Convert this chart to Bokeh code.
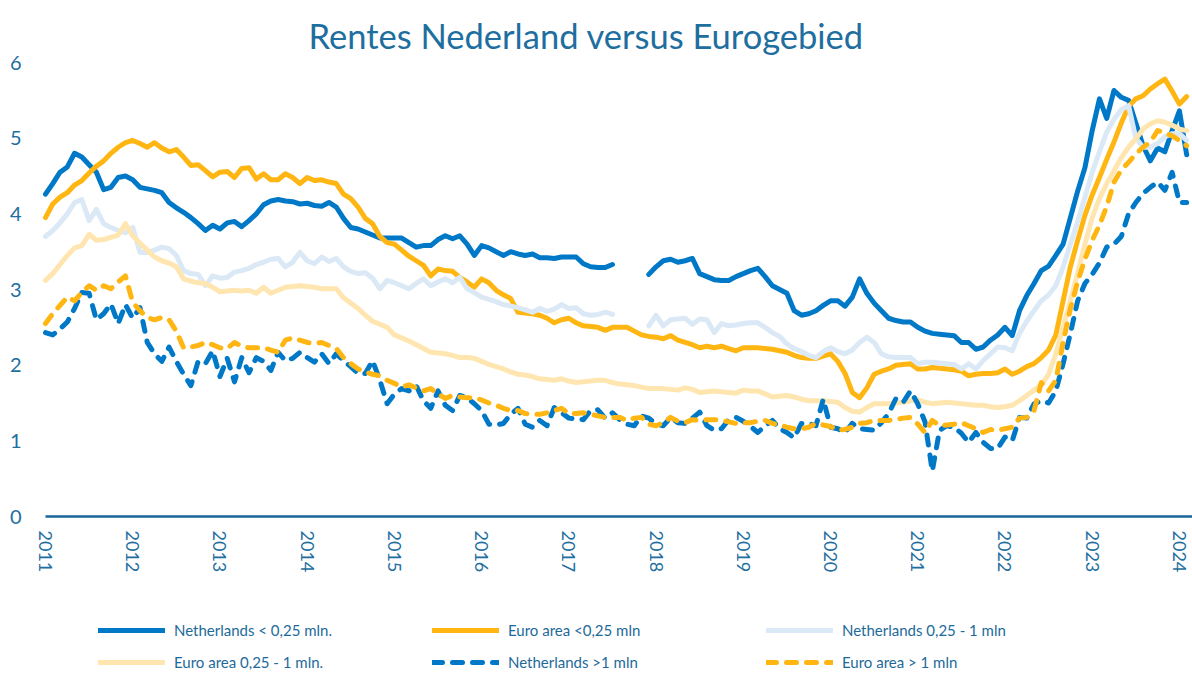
import math
import numpy as np
from bokeh.plotting import figure
from bokeh.models import Range1d, FixedTicker, Legend, LegendItem, ColumnDataSource
from bokeh.core.properties import value
from bokeh.embed import file_html
from bokeh.resources import INLINE

title_text = "Rentes Nederland versus Eurogebied"
start_year = 2011
year_ticks = list(range(2011, 2025))
year_labels = [str(y) for y in year_ticks]
y_ticks = [0, 1, 2, 3, 4, 5, 6]

labels = [
    "Netherlands < 0,25 mln.",
    "Euro area <0,25 mln",
    "Netherlands 0,25 - 1 mln",
    "Euro area 0,25 - 1 mln.",
    "Netherlands >1 mln",
    "Euro area > 1 mln",
]

nl_small = [
    4.26, 4.40, 4.55, 4.62, 4.80, 4.75, 4.65, 4.55, 4.32, 4.35,
    4.48, 4.50, 4.45, 4.35, 4.33, 4.31, 4.28, 4.15, 4.08, 4.02,
    3.95, 3.87, 3.78, 3.85, 3.80, 3.88, 3.90, 3.83, 3.91, 4.00,
    4.12, 4.17, 4.19, 4.17, 4.16, 4.13, 4.14, 4.11, 4.10, 4.15,
    4.09, 3.94, 3.82, 3.80, 3.76, 3.72, 3.68, 3.68, 3.68, 3.68,
    3.62, 3.56, 3.58, 3.58, 3.66, 3.71, 3.67, 3.71, 3.60, 3.45,
    3.58, 3.55, 3.50, 3.45, 3.50, 3.47, 3.45, 3.47, 3.42, 3.42,
    3.41, 3.43, 3.43, 3.43, 3.34, 3.30, 3.29, 3.29, 3.33, None,
    None, None, None, 3.20, 3.30, 3.38, 3.40, 3.36, 3.38, 3.41,
    3.21, 3.17, 3.13, 3.12, 3.12, 3.17, 3.21, 3.25, 3.28, 3.17,
    3.05, 3.00, 2.95, 2.72, 2.66, 2.68, 2.72, 2.79, 2.85, 2.85,
    2.78, 2.90, 3.14, 2.95, 2.82, 2.72, 2.62, 2.59, 2.57, 2.57,
    2.50, 2.45, 2.42, 2.41, 2.40, 2.39, 2.30, 2.30, 2.21, 2.24,
    2.33, 2.40, 2.50, 2.39, 2.72, 2.92, 3.08, 3.25, 3.31, 3.45,
    3.60, 3.95, 4.30, 4.61, 5.10, 5.52, 5.26, 5.63, 5.54, 5.50,
    5.20, 4.90, 4.70, 4.87, 4.82, 5.10, 5.36, 4.78,
]

ea_small = [
    3.95, 4.13, 4.22, 4.28, 4.38, 4.44, 4.54, 4.63, 4.70, 4.80,
    4.88, 4.94, 4.97, 4.93, 4.88, 4.94, 4.87, 4.82, 4.85, 4.75,
    4.64, 4.65, 4.57, 4.49, 4.55, 4.56, 4.48, 4.60, 4.61, 4.46,
    4.53, 4.45, 4.45, 4.53, 4.48, 4.40, 4.48, 4.44, 4.45, 4.42,
    4.40, 4.26, 4.20, 4.09, 3.94, 3.87, 3.70, 3.62, 3.60, 3.52,
    3.44, 3.38, 3.32, 3.18, 3.27, 3.25, 3.24, 3.16, 3.10, 3.03,
    3.14, 3.09, 2.99, 2.93, 2.88, 2.70, 2.69, 2.68, 2.66, 2.62,
    2.56, 2.60, 2.62, 2.56, 2.52, 2.51, 2.50, 2.46, 2.50, 2.50,
    2.50, 2.45, 2.40, 2.38, 2.37, 2.35, 2.39, 2.33, 2.30, 2.27,
    2.23, 2.25, 2.23, 2.25, 2.22, 2.19, 2.23, 2.23, 2.23, 2.22,
    2.21, 2.19, 2.17, 2.13, 2.10, 2.09, 2.09, 2.12, 2.15, 2.05,
    1.89, 1.64, 1.57, 1.70, 1.88, 1.92, 1.95, 2.00, 2.01, 2.02,
    1.95, 1.95, 1.97, 1.96, 1.95, 1.94, 1.92, 1.86, 1.88, 1.89,
    1.89, 1.90, 1.95, 1.88, 1.92, 1.98, 2.02, 2.10, 2.20, 2.40,
    2.85, 3.30, 3.65, 3.98, 4.25, 4.48, 4.72, 4.95, 5.20, 5.42,
    5.52, 5.56, 5.65, 5.72, 5.78, 5.62, 5.45, 5.55,
]

nl_mid = [
    3.70, 3.78, 3.88, 4.00, 4.15, 4.19, 3.91, 4.06, 3.87, 3.82,
    3.78, 3.75, 3.82, 3.49, 3.49, 3.52, 3.56, 3.54, 3.45, 3.25,
    3.21, 3.20, 3.05, 3.18, 3.15, 3.16, 3.23, 3.25, 3.28, 3.33,
    3.36, 3.40, 3.41, 3.30, 3.36, 3.49, 3.38, 3.34, 3.43, 3.37,
    3.41, 3.30, 3.24, 3.21, 3.22, 3.15, 3.01, 3.12, 3.09, 3.05,
    3.01, 3.08, 3.14, 3.05, 3.10, 3.14, 3.09, 3.16, 3.01, 2.96,
    2.90, 2.87, 2.84, 2.80, 2.78, 2.76, 2.73, 2.70, 2.75, 2.71,
    2.74, 2.80, 2.75, 2.76, 2.68, 2.66, 2.67, 2.70, 2.67, None,
    None, None, None, 2.52, 2.66, 2.52, 2.60, 2.61, 2.62, 2.54,
    2.61, 2.60, 2.43, 2.55, 2.52, 2.53, 2.55, 2.56, 2.56, 2.50,
    2.43, 2.38, 2.28, 2.22, 2.18, 2.13, 2.10, 2.18, 2.23, 2.18,
    2.15, 2.20, 2.30, 2.37, 2.30, 2.15, 2.11, 2.10, 2.10, 2.10,
    2.02, 2.04, 2.04, 2.03, 2.02, 2.01, 1.95, 2.02, 1.95, 2.06,
    2.15, 2.24, 2.23, 2.19, 2.42, 2.58, 2.72, 2.85, 2.93, 3.05,
    3.30, 3.60, 3.90, 4.22, 4.55, 4.82, 5.08, 5.25, 5.38, 5.43,
    5.00, 4.88, 4.88, 4.93, 5.02, 5.06, 5.06, 4.97,
]

ea_mid = [
    3.12, 3.21, 3.33, 3.45, 3.55, 3.58, 3.73, 3.65, 3.66, 3.69,
    3.72, 3.87, 3.71, 3.61, 3.52, 3.43, 3.38, 3.35, 3.30, 3.14,
    3.11, 3.09, 3.08, 3.03, 2.97, 2.98, 2.99, 2.98, 2.99, 2.95,
    3.03, 2.95, 2.99, 3.03, 3.04, 3.05, 3.04, 3.03, 3.01, 3.01,
    3.01, 2.89, 2.82, 2.75, 2.66, 2.58, 2.54, 2.50, 2.40, 2.36,
    2.32, 2.27, 2.22, 2.17, 2.16, 2.15, 2.13, 2.10, 2.10, 2.09,
    2.05, 2.01, 1.98, 1.95, 1.91, 1.88, 1.87, 1.85, 1.82, 1.81,
    1.80, 1.82, 1.79, 1.77, 1.78, 1.79, 1.80, 1.80, 1.77, 1.75,
    1.74, 1.73, 1.71, 1.69, 1.69, 1.69, 1.68, 1.67, 1.70, 1.68,
    1.64, 1.65, 1.66, 1.65, 1.64, 1.63, 1.67, 1.66, 1.66, 1.62,
    1.58, 1.59, 1.60, 1.58, 1.55, 1.53, 1.53, 1.53, 1.52, 1.51,
    1.44, 1.39, 1.38, 1.44, 1.49, 1.49, 1.49, 1.50, 1.51, 1.53,
    1.54, 1.51, 1.49, 1.50, 1.51, 1.50, 1.49, 1.48, 1.47, 1.47,
    1.45, 1.44, 1.45, 1.47, 1.53, 1.60, 1.67, 1.74, 1.88, 2.15,
    2.50, 2.85, 3.22, 3.60, 3.95, 4.20, 4.40, 4.57, 4.74, 4.88,
    4.99, 5.12, 5.19, 5.23, 5.21, 5.17, 5.12, 5.10,
]

nl_large = [
    2.43, 2.40, 2.48, 2.57, 2.75, 2.96, 2.95, 2.60, 2.68, 2.81,
    2.55, 2.80, 2.62, 2.76, 2.30, 2.15, 2.05, 2.24, 2.05, 1.88,
    1.73, 2.05, 2.02, 2.19, 1.85, 2.09, 1.78, 2.10, 1.90, 2.10,
    2.05, 1.93, 2.17, 2.06, 2.09, 2.17, 2.10, 2.04, 2.15, 2.02,
    2.15, 2.06, 1.98, 1.89, 1.89, 2.06, 1.80, 1.49, 1.62, 1.69,
    1.66, 1.73, 1.53, 1.43, 1.66, 1.47, 1.40, 1.60, 1.57, 1.49,
    1.40, 1.22, 1.21, 1.23, 1.35, 1.43, 1.22, 1.18, 1.27, 1.20,
    1.44, 1.37, 1.30, 1.29, 1.28, 1.40, 1.41, 1.30, 1.37, 1.28,
    1.22, 1.20, 1.33, 1.30, 1.22, 1.20, 1.31, 1.24, 1.23, 1.30,
    1.38, 1.20, 1.14, 1.16, 1.28, 1.31, 1.26, 1.19, 1.11, 1.20,
    1.27, 1.16, 1.11, 1.04, 1.23, 1.23, 1.20, 1.55, 1.18, 1.16,
    1.11, 1.23, 1.16, 1.15, 1.14, 1.24, 1.36, 1.56, 1.51, 1.66,
    1.49, 1.25, 0.60, 1.14, 1.20, 1.18, 1.10, 0.98, 1.11, 0.98,
    0.90, 0.90, 1.05, 1.00, 1.31, 1.30, 1.49, 1.53, 1.50, 1.66,
    2.02, 2.42, 2.85, 3.08, 3.20, 3.35, 3.56, 3.60, 3.70, 4.00,
    4.15, 4.27, 4.35, 4.42, 4.31, 4.55, 4.15, 4.15,
]

ea_large = [
    2.55, 2.68, 2.79, 2.90, 2.85, 2.96, 3.05, 2.99, 3.05, 3.01,
    3.10, 3.18, 2.83, 2.72, 2.63, 2.60, 2.63, 2.60, 2.45, 2.23,
    2.24, 2.26, 2.30, 2.27, 2.23, 2.22, 2.30, 2.25, 2.23, 2.23,
    2.23, 2.20, 2.17, 2.33, 2.36, 2.33, 2.30, 2.29, 2.30, 2.26,
    2.22, 2.10, 2.02, 1.95, 1.91, 1.88, 1.86, 1.80, 1.76, 1.71,
    1.74, 1.70, 1.66, 1.69, 1.62, 1.56, 1.60, 1.58, 1.57, 1.57,
    1.54, 1.50, 1.47, 1.43, 1.40, 1.40, 1.36, 1.35, 1.35, 1.37,
    1.40, 1.43, 1.36, 1.36, 1.37, 1.35, 1.33, 1.31, 1.31, 1.31,
    1.27, 1.30, 1.31, 1.22, 1.20, 1.24, 1.31, 1.26, 1.24, 1.28,
    1.27, 1.28, 1.28, 1.27, 1.25, 1.23, 1.24, 1.24, 1.26, 1.27,
    1.23, 1.21, 1.18, 1.16, 1.16, 1.18, 1.23, 1.21, 1.19, 1.14,
    1.15, 1.18, 1.23, 1.24, 1.27, 1.27, 1.27, 1.28, 1.30, 1.31,
    1.22, 1.11, 1.27, 1.20, 1.21, 1.22, 1.24, 1.20, 1.16, 1.11,
    1.15, 1.14, 1.16, 1.18, 1.30, 1.31, 1.40, 1.77, 1.66, 1.80,
    2.30, 2.75, 3.10, 3.40, 3.65, 3.85, 4.10, 4.42, 4.58, 4.68,
    4.79, 4.88, 4.95, 5.10, 5.07, 5.03, 4.97, 4.90,
]

series = [nl_small, ea_small, nl_mid, ea_mid, nl_large, ea_large]
n = max(len(s) for s in series)
month_index = np.arange(n)
x_years = start_year + month_index / 12.0

def as_arr(s):
    a = np.array([np.nan if v is None else v for v in s], dtype=float)
    if len(a) < n:
        a = np.concatenate([a, np.full(n - len(a), np.nan)])
    return a[:n]

keys = ["nl_small", "ea_small", "nl_mid", "ea_mid", "nl_large", "ea_large"]
data = {"x": x_years}
for k, s in zip(keys, series):
    data[k] = as_arr(s)
src = ColumnDataSource(data)

BLUE = "#0078c8"
ORANGE = "#ffb612"
LIGHT_BLUE = "#dbe9f6"
LIGHT_ORANGE = "#ffe6b0"
TEXT = "#1e6ea0"

colors = [BLUE, ORANGE, LIGHT_BLUE, LIGHT_ORANGE, BLUE, ORANGE]
dashes = ["solid", "solid", "solid", "solid", "10 10", "10 10"]

# y=0 sits 159 px above the canvas bottom; 6 units span 454 px
y_bottom = -159.0 * 6 / 454.0
x_end = 2024.15
# small pad on the left so the first rotated year label is not clipped
px_per_year = (1192 - 45) / (x_end - start_year)
left_pad_px = 14
x_start = start_year - left_pad_px / px_per_year

p = figure(width=1192, height=675, output_backend="svg", toolbar_location=None,
           x_range=Range1d(x_start, x_end), y_range=Range1d(y_bottom, 6),
           x_axis_location=None,
           min_border_left=45 - left_pad_px, min_border_right=0, min_border_top=62,
           min_border_bottom=0)
p.title.text = title_text
p.title.text_font = "Lato"
p.title.text_font_size = "34.5px"
p.title.text_font_style = "normal"
p.title.text_color = TEXT
p.title.align = "left"
p.title.offset = 263 + left_pad_px
p.title.standoff = 13

p.outline_line_color = None
p.xgrid.visible = False
p.ygrid.visible = False

ya = p.yaxis[0]
ya.ticker = FixedTicker(ticks=y_ticks)
ya.axis_line_color = None
ya.major_tick_out = 0
ya.major_tick_in = 0
ya.minor_tick_out = 0
ya.minor_tick_in = 0
ya.major_label_text_font = "Lato"
ya.major_label_text_font_size = "20px"
ya.major_label_text_color = TEXT
ya.major_label_standoff = 24 - left_pad_px

# x axis: baseline from the first year to the end of the range, and rotated year labels
p.segment(x0=[year_ticks[0]], y0=[0], x1=[x_end], y1=[0],
          line_color="#17659a", line_width=2.5)
p.text(x=year_ticks, y=[0] * len(year_ticks), text=year_labels,
       angle=-math.pi / 2, text_align="left", text_baseline="middle",
       y_offset=14, text_font=value("Lato"), text_font_size="18px",
       text_color=TEXT)

renderers = []
for k, c, d in zip(keys, colors, dashes):
    r = p.line(x="x", y=k, source=src, line_color=c, line_width=5,
               line_dash=d, line_cap="round", line_join="round")
    renderers.append(r)

legend = Legend(items=[LegendItem(label=lab, renderers=[r]) for lab, r in zip(labels, renderers)],
                location=(53 + left_pad_px, 3), orientation="horizontal", ncols=3,
                glyph_width=67, glyph_height=20, label_width=246, label_height=20,
                label_standoff=9, spacing=12, padding=0, margin=0,
                border_line_color=None, background_fill_alpha=0,
                label_text_font="Lato", label_text_font_size="15px",
                label_text_color="#1d6a9a")
p.add_layout(legend, "center")

open("out.html", "w").write(file_html(p, INLINE, title=title_text))
